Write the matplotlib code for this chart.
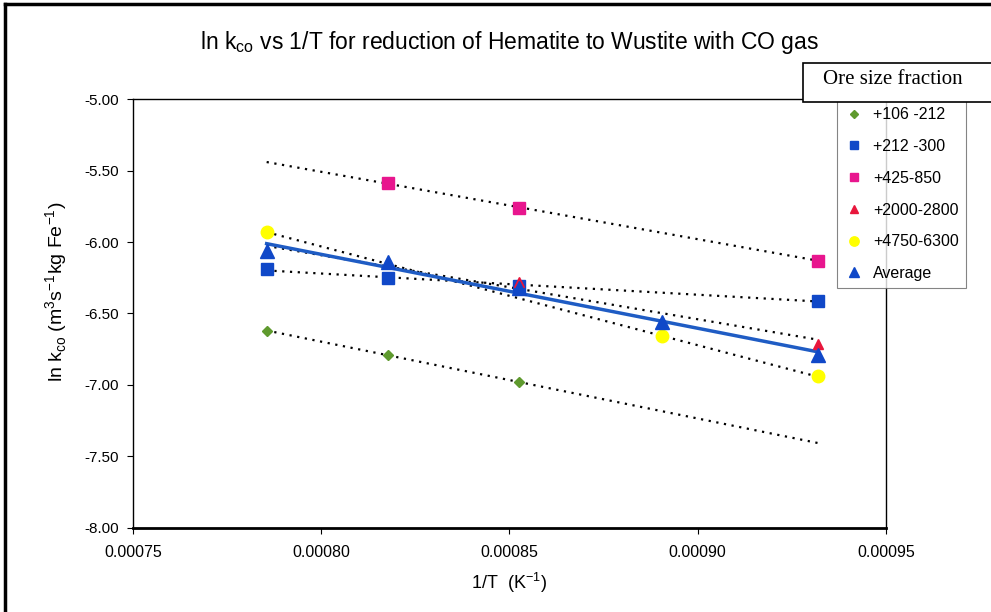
import numpy as np
import matplotlib.pyplot as plt
from matplotlib.lines import Line2D
from matplotlib.patches import Rectangle

# 1/T for T = 1273, 1223, 1173, 1123, 1073 K
inv_T = [0.0007855, 0.0008177, 0.0008525, 0.0008905, 0.0009320]

x_106 = [0.0007855, 0.0008177, 0.0008525]
y_106 = [-6.62, -6.79, -6.98]

x_212 = [0.0007855, 0.0008177, 0.0008525, 0.0009320]
y_212 = [-6.19, -6.25, -6.31, -6.41]

x_425 = [0.0008177, 0.0008525, 0.0009320]
y_425 = [-5.59, -5.76, -6.13]

x_2000 = [0.0007855, 0.0008177, 0.0008525, 0.0009320]
y_2000 = [-6.07, -6.15, -6.28, -6.71]

x_4750 = [0.0007855, 0.0008905, 0.0009320]
y_4750 = [-5.93, -6.66, -6.94]

y_avg = [-6.06, -6.14, -6.32, -6.56, -6.79]

labels = ['+106 -212', '+212 -300', '+425-850', '+2000-2800', '+4750-6300', 'Average']

plt.rcParams['font.family'] = ['Liberation Sans', 'DejaVu Sans']
plt.rcParams['axes.unicode_minus'] = False

fig = plt.figure(figsize=(9.91, 6.12), dpi=100)
ax = fig.add_axes([0.1342, 0.1373, 0.7598, 0.7009])

xs_full = np.array([inv_T[0], inv_T[-1]])

def trend(x, y, **kw):
    p = np.polyfit(x, y, 1)
    ax.plot(xs_full, np.polyval(p, xs_full), **kw)

dot = dict(color='black', linestyle=(0, (1, 2.5)), linewidth=1.6, zorder=2)
trend(x_106, y_106, **dot)
trend(x_212, y_212, **dot)
trend(x_425, y_425, **dot)
trend(x_2000, y_2000, **dot)
trend(x_4750, y_4750, **dot)
trend(inv_T, y_avg, color='#1f5cc4', linewidth=2.5, zorder=3)

ax.plot(x_106, y_106, 'D', color='#5f9a2e', ms=5, ls='none', label=labels[0], zorder=4)
ax.plot(x_212, y_212, 's', color='#1048c8', ms=8, ls='none', label=labels[1], zorder=4)
ax.plot(x_425, y_425, 's', color='#e8168e', ms=8, ls='none', label=labels[2], zorder=4)
ax.plot(x_2000, y_2000, '^', color='#e8163c', ms=7, ls='none', label=labels[3], zorder=4)
ax.plot(x_4750, y_4750, 'o', color='#ffff00', ms=9, ls='none', label=labels[4], zorder=4)
ax.plot(inv_T, y_avg, '^', color='#1048c8', ms=10, ls='none', label=labels[5], zorder=5)

ax.set_xlim(0.00075, 0.00095)
ax.set_ylim(-8.0, -5.0)
ax.set_xticks([0.00075, 0.00080, 0.00085, 0.00090, 0.00095])
ax.set_yticks(np.arange(-8.0, -4.99, 0.5))
ax.xaxis.set_major_formatter(plt.FormatStrFormatter('%.5f'))
ax.yaxis.set_major_formatter(plt.FormatStrFormatter('%.2f'))
ax.tick_params(direction='out', length=4, width=0.8, labelsize=11)
ax.tick_params(axis='x', pad=8, labelsize=11.5)
ax.tick_params(axis='y', pad=6)
for s in ax.spines.values():
    s.set_linewidth(1.0)
ax.spines['bottom'].set_linewidth(2.0)

ax.set_xlabel(r'1/T  (K$^{\mathregular{-1}}$)', fontsize=13, labelpad=8)
ax.set_ylabel(r'ln k$_{\mathregular{co}}$ (m$^{\mathregular{3}}$s$^{\mathregular{-1}}$kg Fe$^{\mathregular{-1}}$)',
              fontsize=14)
ax.yaxis.set_label_coords(-0.083, 0.55)
ax.set_title(r'ln k$_{\mathregular{co}}$ vs 1/T for reduction of Hematite to Wustite with CO gas',
             fontsize=16.5, pad=36)

leg = ax.legend(loc='upper left', bbox_to_anchor=(0.8446, 0.8366),
                bbox_transform=fig.transFigure, frameon=True, fancybox=False,
                edgecolor='#666666', fontsize=11.5, labelspacing=1.05,
                handletextpad=0.6, borderpad=0.45, markerscale=0.75,
                handlelength=1.2, borderaxespad=0)
leg.get_frame().set_linewidth(0.8)

# legend title box, cut off at the right edge like the original
fig.add_artist(Rectangle((803 / 991, 1 - 102 / 612), 200 / 991, 39 / 612,
                         transform=fig.transFigure, fc='white', ec='black', lw=1.2,
                         zorder=10))
fig.text(893 / 991, 1 - 80 / 612, 'Ore size fraction', family='Liberation Serif',
         fontsize=15, ha='center', va='center', zorder=11)

# outer frame of the original figure
fig.add_artist(Line2D([5 / 991, 5 / 991], [0, 1 - 4 / 612], color='black', lw=2.5,
                      transform=fig.transFigure))
fig.add_artist(Line2D([5 / 991, 1], [1 - 4 / 612, 1 - 4 / 612], color='black', lw=2.5,
                      transform=fig.transFigure))

fig.savefig('out.png', dpi=100)
